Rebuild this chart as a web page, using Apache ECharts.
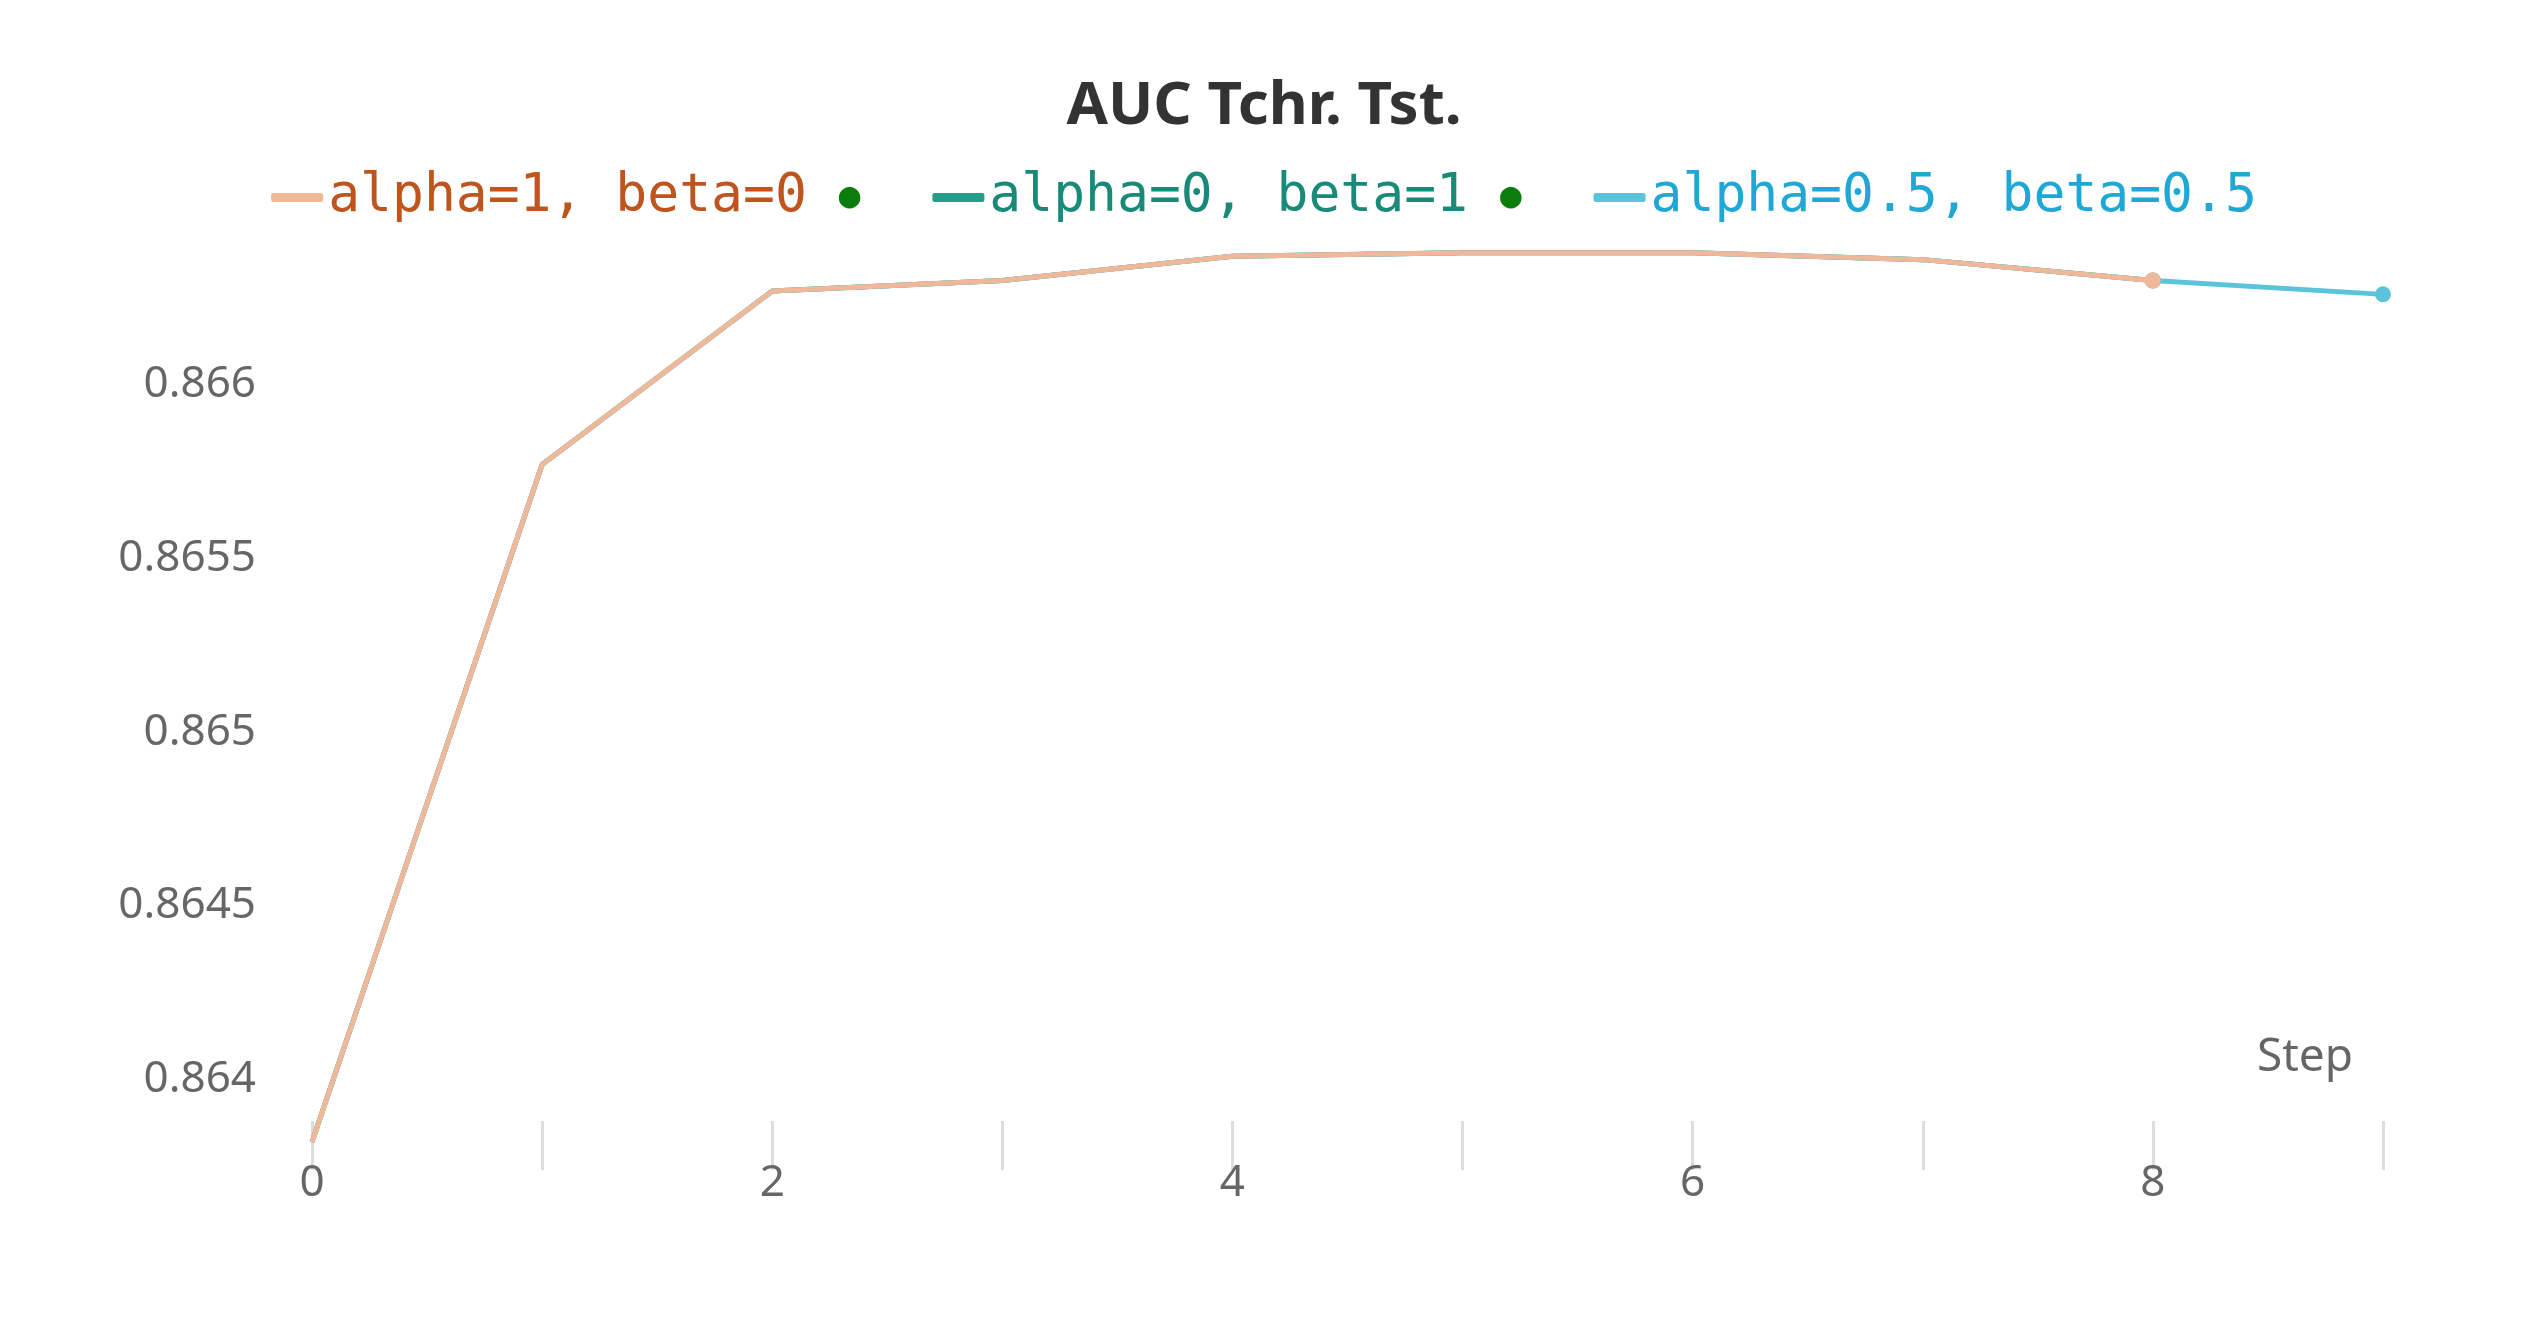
<!DOCTYPE html>
<html><head><meta charset="utf-8">
<script src="https://cdn.jsdelivr.net/npm/echarts@6/dist/echarts.min.js"></script>
<style>html,body{margin:0;background:#fff}#c{width:2528px;height:1328px}</style>
</head><body><div id="c"></div>
<script>
const steps = [0,1,2,3,4,5,6,7,8,9];
const seriesNames = ['alpha=1, beta=0','alpha=0, beta=1','alpha=0.5, beta=0.5'];
const s1 = [0.86382,0.86577,0.86627,0.8663,0.86637,0.86638,0.86638,0.86636,0.8663];
const s2 = [0.86382,0.86577,0.86627,0.8663,0.86637,0.86638,0.86638,0.86636,0.8663];
const s3 = [0.86382,0.86577,0.86627,0.8663,0.86637,0.86638,0.86638,0.86636,0.8663,0.86626];
const yTicks = [0.864,0.8645,0.865,0.8655,0.866];
const lineColors = ['#f0b898','#229e8a','#5bc4da'];
const textColors = ['#c0541e','#1a8a78','#1fa8d6'];
const running = [true,true,false];

const chart = echarts.init(document.getElementById('c'));
function mk(i, data, grid){
  const last = data.length-1;
  const s = {name: seriesNames[i], type:'line', data: data.map((v,k)=>[steps[k],v]),
    z: [1,0,0][i]+2,
    lineStyle:{color:lineColors[i], width:5}, itemStyle:{color:lineColors[i]},
    symbol:(v,p)=>p.dataIndex===last?'circle':'none', symbolSize:16, showSymbol:true,
    emphasis:{disabled:true}, animation:false};
  if (grid) s.markLine = {silent:true, symbol:'none', label:{show:false}, animation:false, z:1,
    lineStyle:{color:'#e6e6e6', width:2, type:'solid'}, data: yTicks.map(t=>({yAxis:t}))};
  return s;
}
chart.setOption({
  title:{text:'AUC Tchr. Tst.', left:'center', top:72,
    textStyle:{fontFamily:'Noto Sans', fontSize:60, fontWeight:'bold', color:'#333'}},
  legend:{top:166, left:'center', itemWidth:52, itemHeight:9, itemGap:72, icon:'roundRect',
    data: seriesNames.map((n,i)=>({name:n, itemStyle:{color:lineColors[i]},
      textStyle:{color:textColors[i]}})),
    formatter: n => { const i = seriesNames.indexOf(n); return n + (running[i] ? ' {d|●}' : ''); },
    textStyle:{fontFamily:'DejaVu Sans Mono', fontSize:53,
      rich:{d:{color:'#0a7d0a', fontSize:36}}}},
  grid:{left:312, right:145, top:211, bottom:186, containLabel:false},
  xAxis:{type:'value', min:0, max:9, interval:1, name:'Step', nameLocation:'end',
    nameGap:0, offset:-21,
    nameTextStyle:{fontFamily:'Noto Sans', fontSize:46, color:'#666', align:'right', verticalAlign:'bottom', padding:[0,30,40,0]},
    axisLine:{show:false},
    axisTick:{show:true, length:49, interval:(i,v)=>true, lineStyle:{color:'#ddd', width:3}},
    splitLine:{show:false},
    axisLabel:{fontFamily:'Noto Sans', fontSize:44, color:'#666', margin:40,
      formatter: v => (v%2===0 ? String(v) : '')}},
  yAxis:{type:'value', min:0.86382, max:0.8665, interval:0.00001,
    axisLine:{show:false}, axisTick:{show:false}, splitLine:{show:false},
    axisLabel:{fontFamily:'Noto Sans', fontSize:44, color:'#666', margin:56,
      formatter: v => { const t = yTicks.find(t=>Math.abs(t-v)<1e-7); return t!==undefined ? String(t) : ''; }}},
  series:[mk(1,s2,true), mk(2,s3), mk(0,s1)]
});
</script></body></html>
